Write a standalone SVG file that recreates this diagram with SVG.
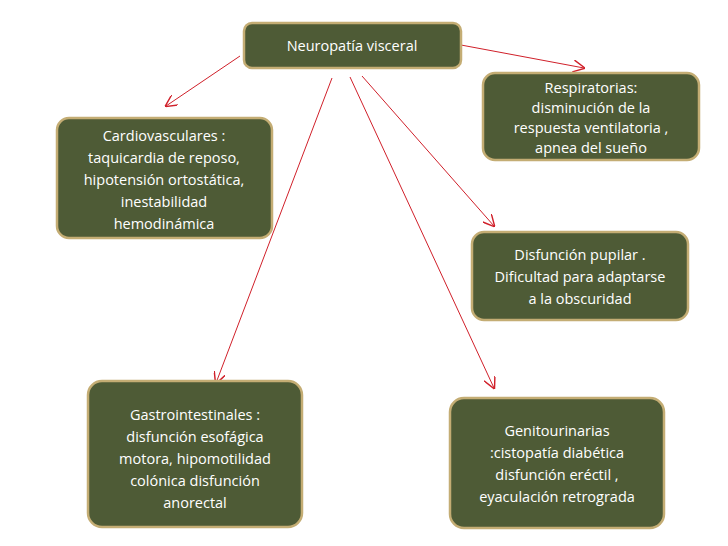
<svg xmlns="http://www.w3.org/2000/svg" width="728" height="546" viewBox="0 0 728 546">
<style>
.b{fill:#4e5b36;stroke:#c4ad74;stroke-width:2.5}
.t{font-family:"Open Sans",sans-serif;font-size:14.5px;fill:#fff;text-anchor:middle}
.c{stroke:#d0202a;stroke-width:1;fill:none;marker-end:url(#a)}
</style>
<defs><marker id="a" viewBox="0 0 10 10" refX="9" refY="5" markerWidth="12" markerHeight="12" markerUnits="userSpaceOnUse" orient="auto"><path d="M0 0L10 5L0 10" fill="none" stroke="#d0202a" stroke-width="1.2"/></marker></defs>
<rect width="728" height="546" fill="#fff"/>
<g id="connectors">
<line class="c" x1="240" y1="56" x2="166" y2="106"/>
<line class="c" x1="461" y1="45" x2="584" y2="68"/>
<line class="c" x1="332" y1="78" x2="216" y2="383"/>
<line class="c" x1="350" y1="77" x2="494" y2="388"/>
<line class="c" x1="362" y1="76" x2="494" y2="226"/>
</g>
<g id="n0"><rect class="b" x="244" y="23" width="217" height="45" rx="8"/><text class="t" x="352" y="51">Neuropatía visceral</text></g>
<g id="n1"><rect class="b" x="483" y="73" width="216" height="87" rx="12"/><text class="t"><tspan x="591" y="93">Respiratorias:</tspan><tspan x="591" y="113">disminución de la</tspan><tspan x="591" y="133">respuesta ventilatoria ,</tspan><tspan x="591" y="153">apnea del sueño</tspan></text></g>
<g id="n2"><rect class="b" x="57" y="118" width="215" height="120" rx="12"/><text class="t"><tspan x="164" y="141">Cardiovasculares :</tspan><tspan x="164" y="163">taquicardia de reposo,</tspan><tspan x="164" y="185">hipotensión ortostática,</tspan><tspan x="164" y="207">inestabilidad</tspan><tspan x="164" y="229">hemodinámica</tspan></text></g>
<g id="n3"><rect class="b" x="472" y="232" width="216" height="88" rx="12"/><text class="t"><tspan x="580" y="260">Disfunción pupilar .</tspan><tspan x="580" y="282">Dificultad para adaptarse</tspan><tspan x="580" y="304">a la obscuridad</tspan></text></g>
<g id="n4"><rect class="b" x="88" y="381" width="214" height="146" rx="14"/><text class="t"><tspan x="195" y="420">Gastrointestinales :</tspan><tspan x="195" y="442">disfunción esofágica</tspan><tspan x="195" y="464">motora, hipomotilidad</tspan><tspan x="195" y="486">colónica disfunción</tspan><tspan x="195" y="508">anorectal</tspan></text></g>
<g id="n5"><rect class="b" x="450" y="398" width="214" height="130" rx="14"/><text class="t"><tspan x="557" y="436">Genitourinarias</tspan><tspan x="557" y="458">:cistopatía diabética</tspan><tspan x="557" y="480">disfunción eréctil ,</tspan><tspan x="557" y="502">eyaculación retrograda</tspan></text></g>
</svg>
